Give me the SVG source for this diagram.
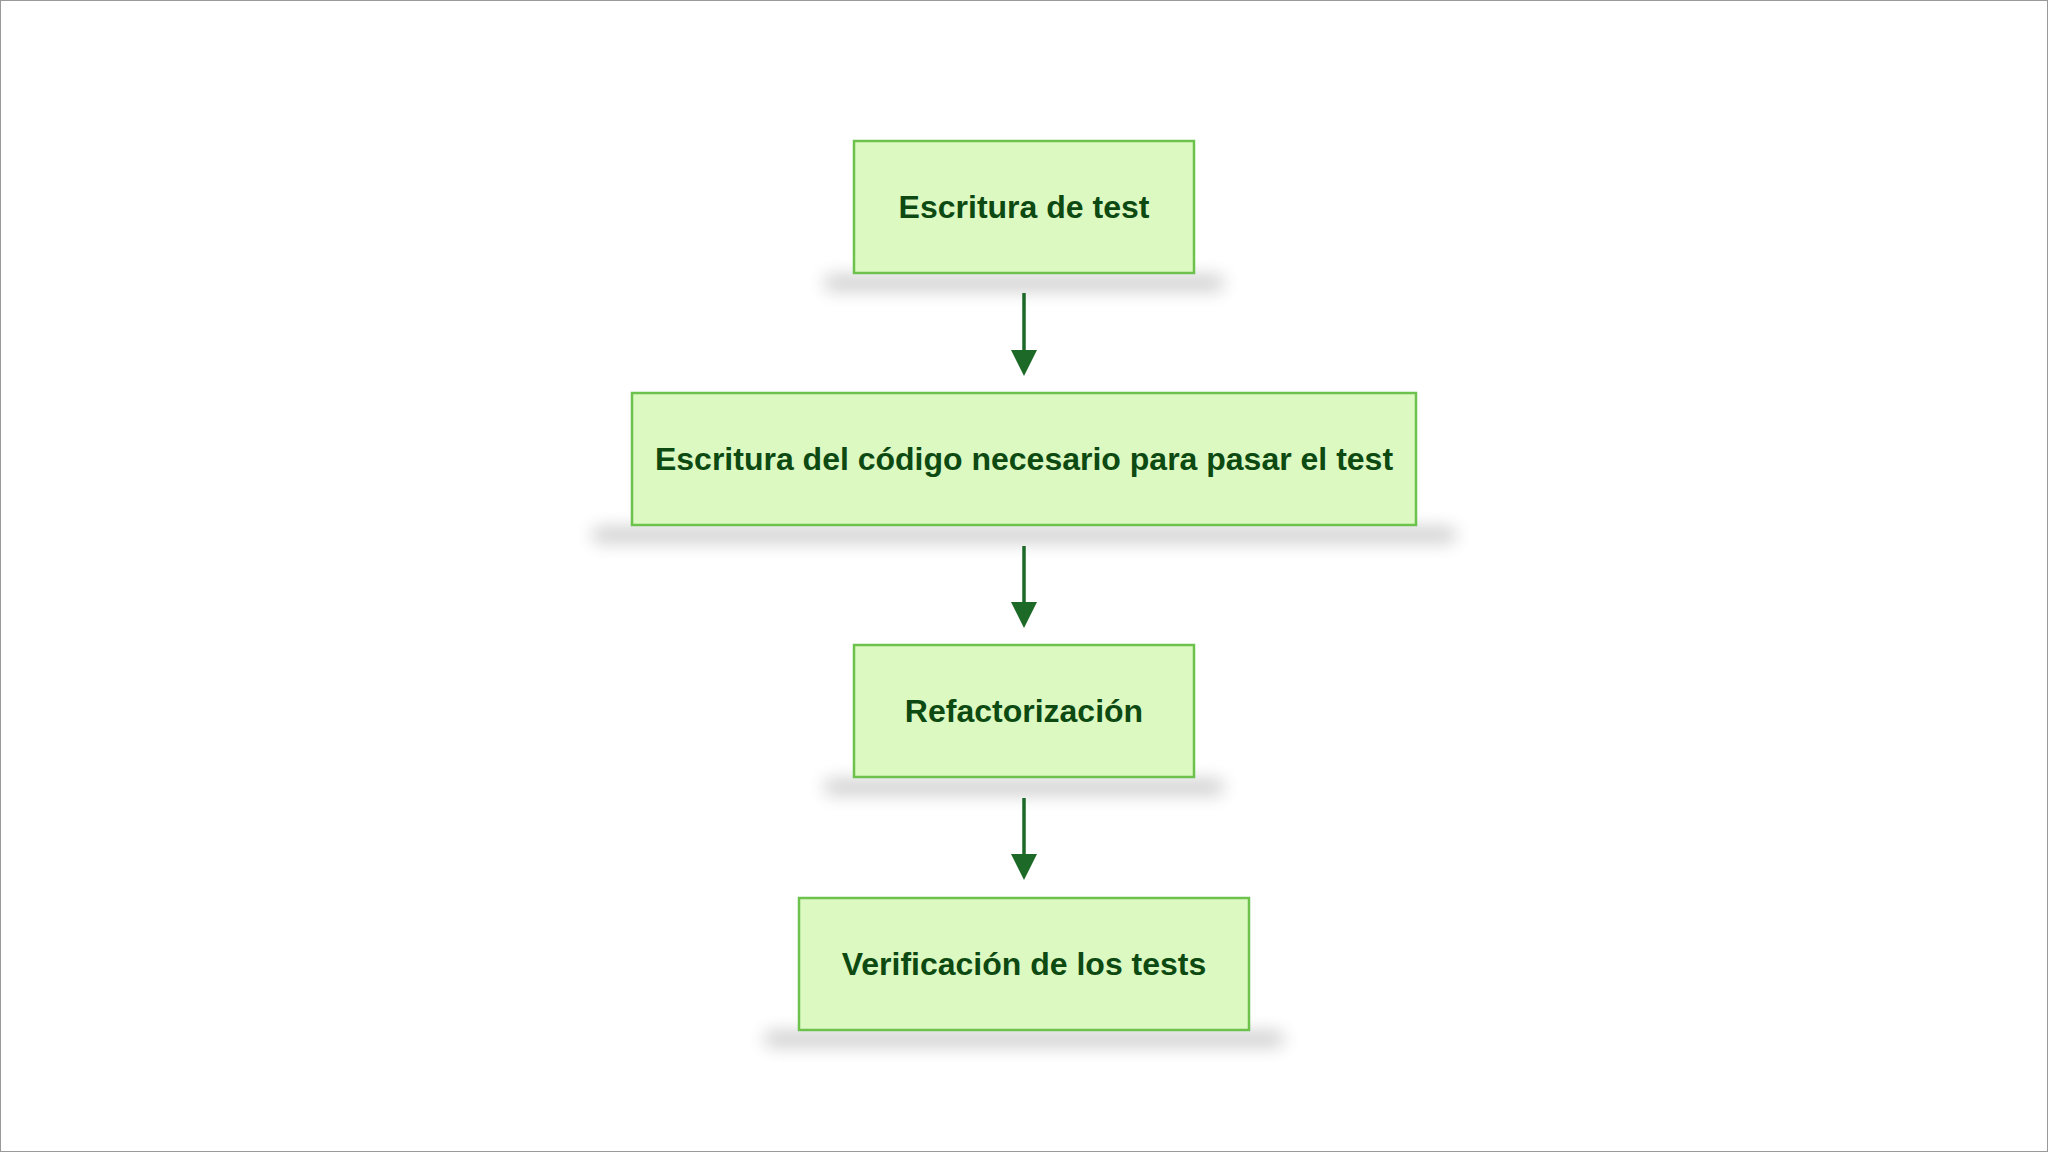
<svg xmlns="http://www.w3.org/2000/svg" width="2048" height="1152" viewBox="0 0 2048 1152">
<defs>
<style>
.box{fill:#ddf9c2;stroke:#6cc24c;stroke-width:2.5}
.lbl{font-family:"Liberation Sans",Arial,sans-serif;font-weight:bold;font-size:32px;fill:#0d4a12;text-anchor:middle}
.conn{stroke:#1d6a28;stroke-width:3.5;fill:none}
</style>
<filter id="sh" x="-30%" y="-300%" width="160%" height="700%"><feGaussianBlur stdDeviation="9"/></filter>
</defs>
<rect x="0" y="0" width="2048" height="1152" fill="#ffffff" stroke="#9a9a9a" stroke-width="2"/>
<g fill="#000" opacity="0.22" filter="url(#sh)">
<rect x="824" y="276" width="400" height="14" rx="7"/>
<rect x="592" y="528" width="864" height="14" rx="7"/>
<rect x="824" y="780" width="400" height="14" rx="7"/>
<rect x="764" y="1032" width="520" height="14" rx="7"/>
</g>
<g id="connectors">
<line class="conn" x1="1024" y1="293" x2="1024" y2="352"/>
<path d="M1011,350 L1037,350 L1024,376 Z" fill="#1d6a28"/>
<line class="conn" x1="1024" y1="546" x2="1024" y2="604"/>
<path d="M1011,602 L1037,602 L1024,628 Z" fill="#1d6a28"/>
<line class="conn" x1="1024" y1="798" x2="1024" y2="856"/>
<path d="M1011,854 L1037,854 L1024,880 Z" fill="#1d6a28"/>
</g>
<g id="n1"><rect class="box" x="854" y="141" width="340" height="132"/><text class="lbl" x="1024" y="218">Escritura de test</text></g>
<g id="n2"><rect class="box" x="632" y="393" width="784" height="132"/><text class="lbl" x="1024" y="470">Escritura del código necesario para pasar el test</text></g>
<g id="n3"><rect class="box" x="854" y="645" width="340" height="132"/><text class="lbl" x="1024" y="722">Refactorización</text></g>
<g id="n4"><rect class="box" x="799" y="898" width="450" height="132"/><text class="lbl" x="1024" y="975">Verificación de los tests</text></g>
</svg>
